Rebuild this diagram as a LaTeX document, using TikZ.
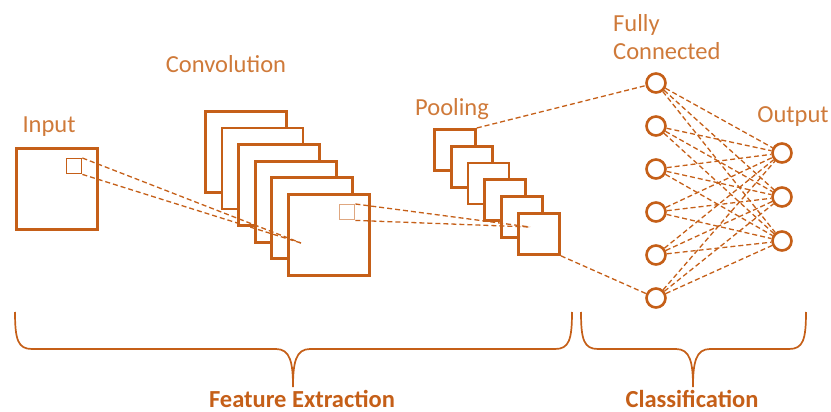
\documentclass[tikz,border=0pt]{standalone}
\usepackage{fontspec}
\setmainfont{Carlito}
\definecolor{cnnor}{HTML}{C55F18}
\definecolor{cnntx}{HTML}{CF7A3A}
\begin{document}
\begin{tikzpicture}[x=1pt,y=-1pt,
  sq/.style={draw=cnnor,line width=2.8pt,fill=white,inner sep=0pt,anchor=north west,minimum width=#1,minimum height=#1},
  smallsq/.style={draw=cnnor,line width=1.4pt,inner sep=0pt,anchor=north west,minimum width=15pt,minimum height=15pt},
  neuron/.style={circle,draw=cnnor,line width=2.6pt,fill=white,inner sep=0pt,minimum size=19pt},
  dl/.style={draw=cnnor,line width=1.3pt,dash pattern=on 5pt off 3pt},
  brace/.style={draw=cnnor,line width=1.7pt},
  lbl/.style={text=cnntx,font=\fontsize{24.5}{28}\selectfont,anchor=base,inner sep=0pt},
  blbl/.style={text=cnnor,font=\fontsize{24.5}{28}\selectfont\bfseries,anchor=base,inner sep=0pt}
]
\useasboundingbox (0,0) rectangle (831,412);
% input
\node[sq=81pt] (in) at (15,147) {};
\node[smallsq] (insq) at (66,158) {};
% convolution maps
\foreach \i in {0,...,5}{
  \node[sq=81pt] (c\i) at ({204+16.6*\i},{110+16.6*\i}) {};
}
\node[smallsq,draw=cnnor!55] (cvsq) at (339,204) {};
% pooling maps
\foreach \i in {1,...,6}{
  \node[sq=41pt] (p\i) at ({433+16.8*(\i-1)},{128+16.8*(\i-1)}) {};
}
\coordinate (cvend) at (301,243);
\coordinate (plend) at (530,227);
\draw[dl] (insq.north east) -- (cvend);
\draw[dl] (insq.south east) -- (cvend);
\draw[dl] (cvsq.north east) -- (plend);
\draw[dl] (cvsq.south east) -- (plend);
% fully connected
\foreach \i in {1,...,6}{
  \node[neuron] (f\i) at (656,{83+43*(\i-1)}) {};
}
\foreach \j/\y in {1/153,2/197,3/241}{
  \node[neuron] (o\j) at (782,\y) {};
}
\foreach \i in {1,...,6}{
  \foreach \j in {1,2,3}{
    \draw[dl] (f\i) -- (o\j);
  }
}
\draw[dl] (p1.north east) -- (f1);
\draw[dl] (p6.south east) -- (f6);
% labels
\node[lbl] (tin) at (49,132) {Input};
\node[lbl] (tconv) at (226,73) {Convolution};
\node[lbl] (tpool) at (452,115) {Pooling};
\node[lbl,anchor=base west] (tfc1) at (613,32) {Fully};
\node[lbl,anchor=base west] (tfc2) at (613,60) {Connected};
\node[lbl] (tout) at (793,123) {Output};
% braces
\draw[brace] (15,312) .. controls (15,340) and (18,349) .. (32,349) -- (276,349)
  .. controls (290,349) and (293,362) .. (293,387)
  .. controls (293,362) and (296,349) .. (310,349) -- (555,349)
  .. controls (569,349) and (572,340) .. (572,312);
\draw[brace] (581,312) .. controls (581,340) and (584,349) .. (598,349) -- (676,349)
  .. controls (690,349) and (693,362) .. (693,387)
  .. controls (693,362) and (696,349) .. (710,349) -- (789,349)
  .. controls (803,349) and (806,340) .. (806,312);
\node[blbl] (tfe) at (302,407) {Feature Extraction};
\node[blbl] (tcl) at (692,407) {Classification};
\end{tikzpicture}
\end{document}
